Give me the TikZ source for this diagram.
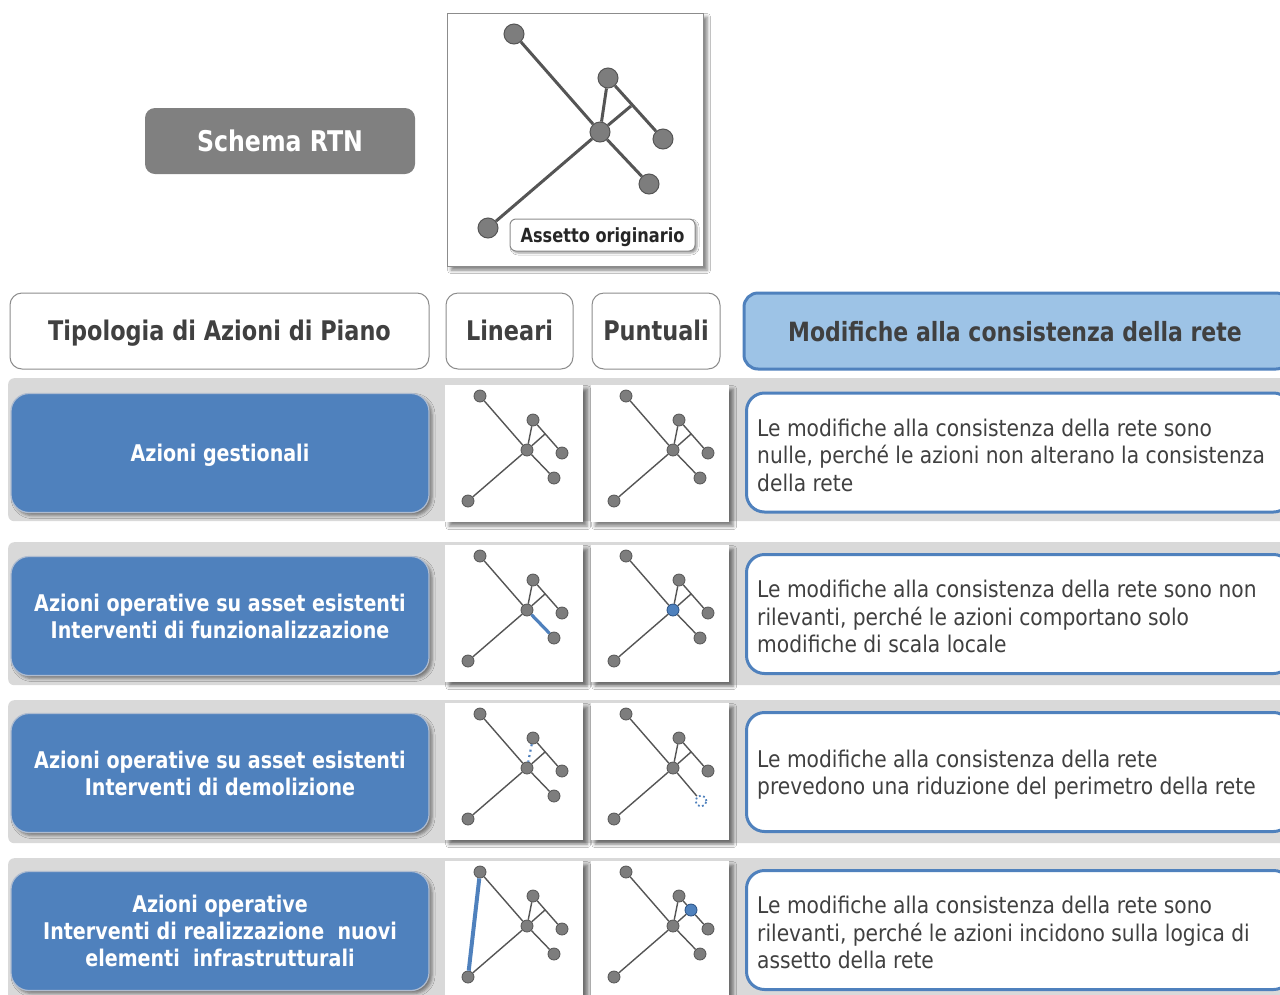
\documentclass[tikz,border=0pt]{standalone}
\usepackage{fontspec}
\setmainfont{DejaVu Sans}
\newfontfamily\regf{DejaVu Sans}[FakeStretch=0.88]
\newfontfamily\boldf{DejaVu Sans Bold}[FakeStretch=0.83]
\usetikzlibrary{shadows,shadows.blur}
\definecolor{cblue}{RGB}{79,129,189}
\definecolor{clight}{RGB}{157,195,230}
\definecolor{cband}{RGB}{217,217,217}
\definecolor{ctext}{RGB}{64,64,64}
\definecolor{cgray}{RGB}{128,128,128}
\definecolor{cnode}{RGB}{125,125,125}
\definecolor{cnodeb}{RGB}{85,85,85}
\definecolor{cedge}{RGB}{85,85,85}
\definecolor{cbord}{RGB}{140,140,140}
\definecolor{cdblue}{RGB}{40,80,130}
\tikzset{
  sh/.style={blur shadow={shadow xshift=3pt,shadow yshift=-3pt,shadow blur radius=3pt,shadow opacity=45}},
  shp/.style={blur shadow={shadow xshift=4pt,shadow yshift=-4pt,shadow blur radius=3.5pt,shadow opacity=50}},
  hdr/.style={draw=cbord,line width=1pt,fill=white,rounded corners=12pt,text=ctext,inner sep=0pt,
    minimum height=76pt,font=\boldf\fontsize{27}{32}\selectfont,text height=19.5pt,text depth=0pt},
  band/.style={fill=cband,rounded corners=6pt,inner sep=0pt,minimum height=143pt,minimum width=1290pt,anchor=north west},
  leftbox/.style={fill=cblue,draw={rgb,255:red,175;green,188;blue,208},line width=1.2pt,rounded corners=18pt,
    minimum width=418pt,minimum height=119pt,inner sep=0pt,text=white,align=center,
    font=\boldf\fontsize{23}{27}\selectfont,sh},
  rightbox/.style={fill=white,draw=cblue,line width=3pt,rounded corners=18pt,minimum width=545pt,
    minimum height=119pt,inner sep=0pt,anchor=west},
  rtext/.style={anchor=west,align=left,inner sep=0pt,text=ctext,font=\regf\fontsize{23}{27.5}\selectfont},
  panel/.style={fill=white,inner sep=0pt,minimum width=138pt,minimum height=137pt,anchor=north west,shp},
  gn/.style={circle,fill=cnode,draw=cnodeb,line width=0.8pt,inner sep=0pt,minimum size=12pt},
  bignode/.style={circle,fill=cnode,draw=cnodeb,line width=1pt,inner sep=0pt,minimum size=20pt},
  ge/.style={draw=cedge,line width=1.4pt},
  bige/.style={draw=cedge,line width=3pt},
  bluenode/.style={fill=cblue,draw=cdblue},
  dotnode/.style={fill=none,draw=cblue,line width=1.8pt,dash pattern=on 1.8pt off 2.6pt,minimum size=11pt},
  hl/.style={draw=cblue,line width=3.2pt},
  dotedge/.style={draw=cblue,line width=2.2pt,dash pattern=on 2pt off 3.5pt},
}
\newcommand\sgraph[2]{%
  \node[panel] (#1) at #2 {};
  \begin{scope}[shift={#2}]
    \node[gn,#1A/.try] (#1A) at (35,11) {};
    \node[gn,#1B/.try] (#1B) at (88,35) {};
    \node[gn,#1C/.try] (#1C) at (82,65) {};
    \node[gn,#1D/.try] (#1D) at (117,68) {};
    \node[gn,#1E/.try] (#1E) at (109,93) {};
    \node[gn,#1F/.try] (#1F) at (23,116) {};
    \coordinate (#1J) at (100,49);
  \end{scope}}
\newcommand\stdedges[1]{%
  \draw[ge] (#1A) -- (#1C);
  \draw[ge] (#1B) -- (#1C);
  \draw[ge] (#1C) -- (#1F);
  \draw[ge] (#1C) -- (#1E);
  \draw[ge] (#1B) -- (#1D);
  \draw[ge] (#1C) -- (#1J);}
\begin{document}
\begin{tikzpicture}[x=1pt,y=-1pt]
\useasboundingbox (0,0) rectangle (1280,994);
\clip (0,0) rectangle (1280,994);
\fill[white] (0,0) rectangle (1280,994);

% top
\node[fill=cgray,rounded corners=10pt,minimum width=270pt,minimum height=66pt,inner sep=0pt,text=white,
  font=\boldf\fontsize{28.5}{32}\selectfont,text height=20.5pt,text depth=0pt] (rtn) at (280,141) {Schema RTN};
\node[draw=cbord,line width=1pt,fill=white,minimum width=256pt,minimum height=253pt,inner sep=0pt,shp] (topbox) at (575,139.5) {};
\node[bignode] (TA) at (514,34) {};
\node[bignode] (TB) at (608,78) {};
\node[bignode] (TC) at (600,132) {};
\node[bignode] (TD) at (663,139) {};
\node[bignode] (TE) at (649,184) {};
\node[bignode] (TF) at (488,228) {};
\coordinate (TJ) at (631,106);
\draw[bige] (TA) -- (TC);
\draw[bige] (TB) -- (TC);
\draw[bige] (TC) -- (TF);
\draw[bige] (TC) -- (TE);
\draw[bige] (TB) -- (TD);
\draw[bige] (TC) -- (TJ);
\node[draw=cbord,line width=1pt,fill=white,rounded corners=6pt,minimum width=185pt,minimum height=32pt,
  inner sep=0pt,text=black!85,font=\boldf\fontsize{19.5}{22}\selectfont,text height=14pt,text depth=0pt,
  blur shadow={shadow xshift=2pt,shadow yshift=-2pt,shadow blur radius=2pt,shadow opacity=40}] (lab) at (602.5,235) {Assetto originario};

% header row
\node[hdr,minimum width=419pt] (htip) at (219.5,331) {Tipologia di Azioni di Piano};
\node[hdr,minimum width=127pt] (hlin) at (509.5,331) {Lineari};
\node[hdr,minimum width=128pt] (hpun) at (656,331) {Puntuali};
\node[fill=clight,draw=cblue,line width=3pt,rounded corners=14pt,minimum width=546pt,minimum height=76pt,
  inner sep=0pt] (hmod) at (1017,331) {};
\node[text=ctext,font=\boldf\fontsize{26.5}{30}\selectfont,inner sep=0pt,text height=19pt,text depth=0pt] (hmodt) at (1015,332) {Modifiche alla consistenza della rete};

% bands
\node[band] (b1) at (8,378) {};
\node[band] (b2) at (8,542) {};
\node[band] (b3) at (8,700) {};
\node[band] (b4) at (8,858) {};

% left boxes
\node[leftbox,text height=16.5pt,text depth=0pt] (l1) at (220,453) {Azioni gestionali};
\node[leftbox] (l2) at (220,616) {Azioni operative su asset esistenti\\Interventi di funzionalizzazione};
\node[leftbox] (l3) at (220,773) {Azioni operative su asset esistenti\\Interventi di demolizione};
\node[leftbox] (l4) at (220,931) {Azioni operative\\Interventi di realizzazione\ \ nuovi\\elementi\ \ infrastrutturali};

% right boxes
\node[rightbox] (r1) at (745,452.5) {};
\node[rtext] (r1t) at (757,455) {Le modifiche alla consistenza della rete sono\\nulle, perch\'e le azioni non alterano la consistenza\\della rete};
\node[rightbox] (r2) at (745,614) {};
\node[rtext] (r2t) at (757,616.5) {Le modifiche alla consistenza della rete sono non\\rilevanti, perch\'e le azioni comportano solo\\modifiche di scala locale};
\node[rightbox] (r3) at (745,772) {};
\node[rtext] (r3t) at (757,774.5) {Le modifiche alla consistenza della rete\\prevedono una riduzione del perimetro della rete};
\node[rightbox] (r4) at (745,930) {};
\node[rtext] (r4t) at (757,932.5) {Le modifiche alla consistenza della rete sono\\rilevanti, perch\'e le azioni incidono sulla logica di\\assetto della rete};

% small graphs
\tikzset{g2pC/.style={bluenode},g3pE/.style={dotnode,yshift=-5pt,xshift=1pt}}
\sgraph{g1l}{(445,385)}
\sgraph{g1p}{(591,385)}
\sgraph{g2l}{(445,545)}
\sgraph{g2p}{(591,545)}
\sgraph{g3l}{(445,703)}
\sgraph{g3p}{(591,703)}
\sgraph{g4l}{(445,861)}
\sgraph{g4p}{(591,861)}
\stdedges{g1l}
\stdedges{g1p}
\stdedges{g2l}
\draw[hl] (g2lC) -- (g2lE);
\stdedges{g2p}
% row 3 lineari
\draw[ge] (g3lA) -- (g3lC);
\draw[ge] (g3lC) -- (g3lF);
\draw[ge] (g3lC) -- (g3lE);
\draw[ge] (g3lB) -- (g3lD);
\draw[ge] (g3lC) -- (g3lJ);
\draw[dotedge] (g3lB) -- (g3lC);
\stdedges{g3p}
% row 4
\stdedges{g4l}
\draw[hl,line width=4pt] (g4lA) -- (g4lF);
\node[gn,bluenode] (g4pN) at (g4pJ) {};
\draw[ge] (g4pA) -- (g4pC);
\draw[ge] (g4pB) -- (g4pC);
\draw[ge] (g4pC) -- (g4pF);
\draw[ge] (g4pC) -- (g4pE);
\draw[ge] (g4pB) -- (g4pN);
\draw[ge] (g4pN) -- (g4pD);
\draw[ge] (g4pC) -- (g4pN);
\end{tikzpicture}
\end{document}
